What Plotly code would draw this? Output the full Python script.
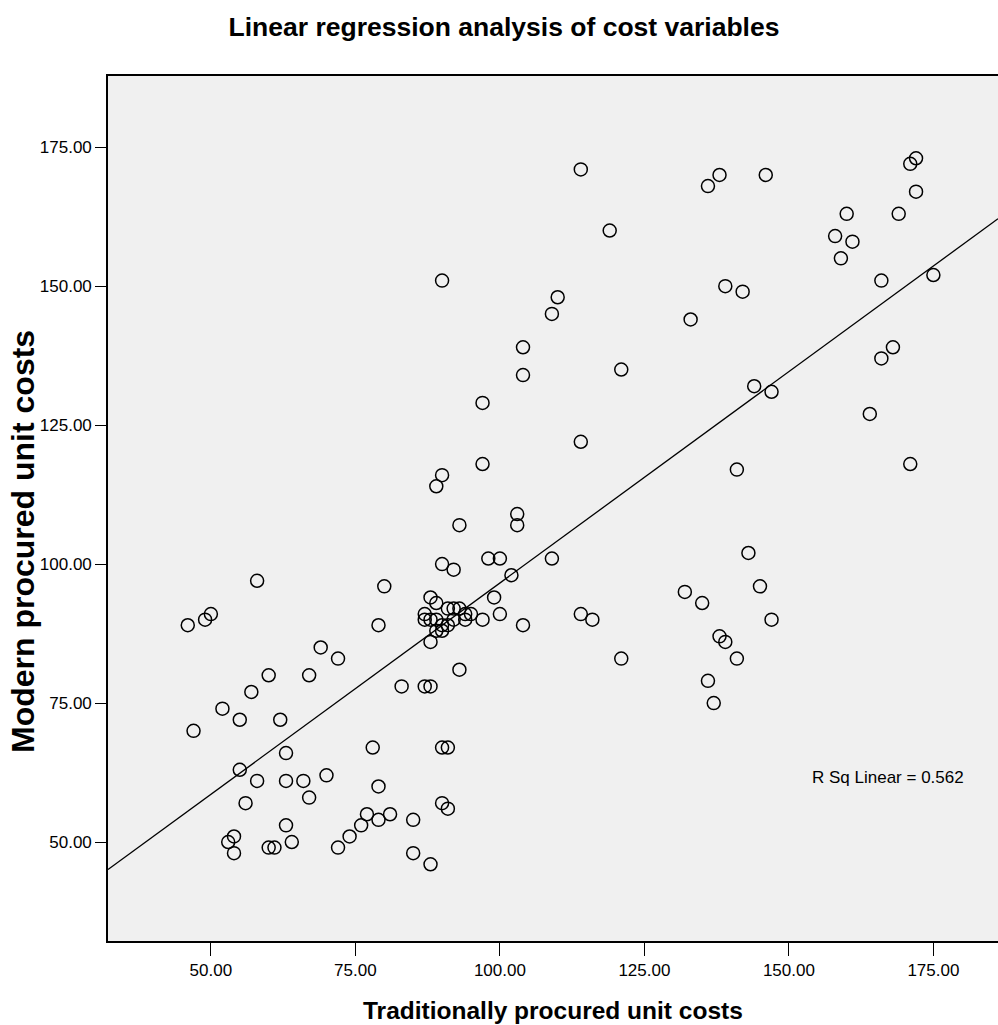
import numpy as np
import plotly.graph_objects as go

# Traditionally procured unit costs (x) and Modern procured unit costs (y)
x_traditional = [
    58, 46, 49, 50, 69, 72, 60, 67, 57, 52, 55, 62, 47,
    63, 55, 58, 63, 66, 70, 67, 56, 63, 54, 53, 54, 60, 61, 64, 72,
    90, 92, 98, 100, 109, 102, 80, 99, 88, 89, 100, 79, 104, 93, 88, 83, 87, 88,
    91, 92, 93, 87, 94, 95, 87, 88, 89, 92, 94, 97, 90, 91, 89, 90,
    78, 90, 91, 79, 90, 91, 77, 81, 79, 85, 76, 74, 85, 88,
    90, 110, 109, 104, 104, 121, 97, 114, 97, 90, 89, 93, 103, 103,
    138, 136, 146, 172, 171, 172, 160, 169, 158, 161, 159, 166, 175, 139, 142, 133,
    168, 166, 144, 147, 164, 141, 171,
    143, 132, 145, 135, 147, 138, 139, 141, 136, 137,
    114, 119, 114, 116, 121,
]
y_modern = [
    97, 89, 90, 91, 85, 83, 80, 80, 77, 74, 72, 72, 70,
    66, 63, 61, 61, 61, 62, 58, 57, 53, 51, 50, 48, 49, 49, 50, 49,
    100, 99, 101, 101, 101, 98, 96, 94, 94, 93, 91, 89, 89, 81, 86, 78, 78, 78,
    92, 92, 92, 91, 91, 91, 90, 90, 90, 90, 90, 90, 89, 89, 88, 88,
    67, 67, 67, 60, 57, 56, 55, 55, 54, 54, 53, 51, 48, 46,
    151, 148, 145, 139, 134, 135, 129, 122, 118, 116, 114, 107, 109, 107,
    170, 168, 170, 173, 172, 167, 163, 163, 159, 158, 155, 151, 152, 150, 149, 144,
    139, 137, 132, 131, 127, 117, 118,
    102, 95, 96, 93, 90, 87, 86, 83, 79, 75,
    171, 160, 91, 90, 83,
]

tick_vals = [50, 75, 100, 125, 150, 175]
x_range = [32.2, 186.18]
y_range = [32.2, 187.8]

title_text = "Linear regression analysis of cost variables"
x_title = "Traditionally procured unit costs"
y_title = "Modern procured unit costs"
rsq_text = "R Sq Linear = 0.562"

xs = np.array(x_traditional, dtype=float)
ys = np.array(y_modern, dtype=float)
slope, intercept = np.polyfit(xs, ys, 1)
line_x = np.array(x_range)
line_y = intercept + slope * line_x

FONT = "Liberation Sans, Arial, sans-serif"

fig = go.Figure()
fig.add_trace(go.Scatter(
    x=line_x, y=line_y, mode="lines",
    line=dict(color="black", width=1.3),
    hoverinfo="skip", showlegend=False,
))
fig.add_trace(go.Scatter(
    x=x_traditional, y=y_modern, mode="markers",
    marker=dict(symbol="circle-open", size=13, color="black",
                line=dict(width=1.5, color="black")),
    showlegend=False,
))

fig.update_layout(
    width=998, height=1025, autosize=False,
    margin=dict(l=108, r=0, t=76, b=84),
    paper_bgcolor="white", plot_bgcolor="#F0F0F0",
    font=dict(family=FONT, color="black", size=17),
    title=dict(text=title_text, x=0.505, xref="container", xanchor="center",
               y=1 - 27 / 1025, yref="container", yanchor="middle",
               font=dict(family=FONT, size=26.5, weight="bold", color="black")),
    xaxis=dict(range=x_range, tickvals=tick_vals, tickformat=".2f",
               showgrid=False, zeroline=False, showline=True, mirror=True,
               linecolor="black", linewidth=1.6, ticks="outside", ticklen=13,
               tickwidth=1.3, tickcolor="black",
               tickfont=dict(family=FONT, size=17, color="black")),
    yaxis=dict(range=y_range, tickvals=tick_vals, tickformat=".2f",
               showgrid=False, zeroline=False, showline=True, mirror=False,
               linecolor="black", linewidth=1.6, ticks="outside", ticklen=11,
               tickwidth=1.3, tickcolor="black",
               tickfont=dict(family=FONT, size=17, color="black")),
    annotations=[
        dict(text=x_title, xref="paper", yref="paper", x=0.5, y=(941 - 1010) / 865,
             xanchor="center", yanchor="middle", showarrow=False,
             font=dict(family=FONT, size=24.5, weight="bold", color="black")),
        dict(text=y_title, xref="paper", yref="paper", x=(23 - 108) / 890,
             y=(941 - 542) / 865, xanchor="center", yanchor="middle",
             textangle=-90, showarrow=False,
             font=dict(family=FONT, size=32, weight="bold", color="black")),
        dict(text=rsq_text, xref="paper", yref="paper", x=(810 - 108) / 890,
             y=(941 - 777) / 865, xanchor="left", yanchor="middle",
             showarrow=False,
             font=dict(family=FONT, size=17, color="black")),
    ],
)

fig.write_html("out.html")
